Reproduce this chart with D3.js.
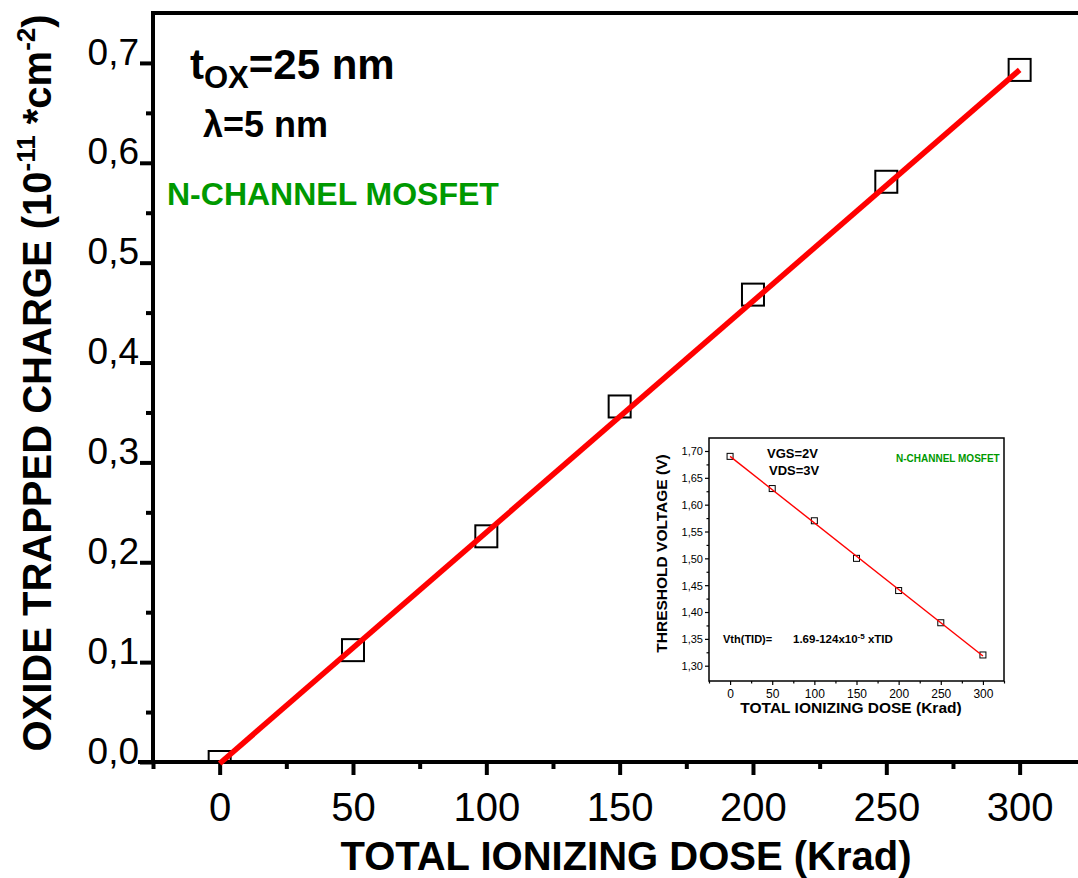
<!DOCTYPE html>
<html>
<head>
<meta charset="utf-8">
<script src="https://cdn.jsdelivr.net/npm/d3@7"></script>
<style>
  html, body { margin: 0; padding: 0; background: #fff; overflow: hidden; }
  svg { display: block; font-family: "Liberation Sans", Arial, sans-serif; }
</style>
</head>
<body>
<svg id="chart" width="1078" height="878"></svg>
<script>
// Main panel: oxide trapped charge vs total ionizing dose
const doseKrad = [0, 50, 100, 150, 200, 250, 300];
const trappedCharge = [0.0, 0.112, 0.226, 0.356, 0.468, 0.581, 0.693];
const chargeFit = [-0.0015, 0.002315];          // intercept, slope
const chargeTicks = [0, 0.1, 0.2, 0.3, 0.4, 0.5, 0.6, 0.7];
const chargeMinorTicks = [0.05, 0.15, 0.25, 0.35, 0.45, 0.55, 0.65];
const doseTicks = [0, 50, 100, 150, 200, 250, 300];
const doseMinorTicks = [-25, 25, 75, 125, 175, 225, 275, 325];

// Inset panel: threshold voltage vs total ionizing dose
const thresholdVoltage = [1.69, 1.63, 1.57, 1.50, 1.44, 1.38, 1.32];
const voltageFit = [1.69, -0.00124];            // intercept, slope
const voltageTicks = [1.30, 1.35, 1.40, 1.45, 1.50, 1.55, 1.60, 1.65, 1.70];
const voltageMinorTicks = [1.325, 1.375, 1.425, 1.475, 1.525, 1.575, 1.625, 1.675];

const comma = f => v => f(v).replace(".", ",");

const svg = d3.select("#chart");

// ---------- main panel ----------
const x = d3.scaleLinear().domain([-25, 325]).range([153, 1086.3]);
const y = d3.scaleLinear().domain([0, 0.75]).range([762, 13]);

const main = svg.append("g");

svg.append("defs").append("clipPath").attr("id", "plotArea")
  .append("rect")
  .attr("x", x.range()[0]).attr("y", y.range()[1])
  .attr("width", x.range()[1] - x.range()[0]).attr("height", y.range()[0] - y.range()[1]);

function styleAxis(g, sw) {
  g.select(".domain").remove();
  g.selectAll(".tick line").attr("stroke", "#000").attr("stroke-width", sw);
}

// data markers (clipped to the plot area)
const mainSize = 22;
main.append("g").attr("clip-path", "url(#plotArea)")
  .selectAll("rect").data(doseKrad).join("rect")
  .attr("x", d => x(d) - mainSize / 2)
  .attr("y", (d, i) => y(trappedCharge[i]) - mainSize / 2)
  .attr("width", mainSize).attr("height", mainSize)
  .attr("fill", "none").attr("stroke", "#000").attr("stroke-width", 2);

// minor ticks
main.append("g").attr("transform", `translate(${x.range()[0]},0)`)
  .call(d3.axisLeft(y).tickValues(chargeMinorTicks).tickSize(7).tickFormat(""))
  .call(g => styleAxis(g, 4));
main.append("g").attr("transform", `translate(0,${y(0)})`)
  .call(d3.axisBottom(x).tickValues(doseMinorTicks).tickSize(7).tickFormat(""))
  .call(g => styleAxis(g, 4));

// major ticks with labels
main.append("g").attr("transform", `translate(${x.range()[0]},0)`)
  .call(d3.axisLeft(y).tickValues(chargeTicks).tickSize(13).tickPadding(1).tickFormat(comma(d3.format(".1f"))))
  .call(g => styleAxis(g, 4))
  .call(g => g.selectAll(".tick text")
    .attr("font-family", "Liberation Sans, Arial, sans-serif")
    .attr("font-size", 37).attr("fill", "#000").attr("dy", "0.03em"));
main.append("g").attr("transform", `translate(0,${y(0)})`)
  .call(d3.axisBottom(x).tickValues(doseTicks).tickSize(13).tickPadding(18).tickFormat(d3.format("d")))
  .call(g => styleAxis(g, 4))
  .call(g => g.selectAll(".tick text")
    .attr("font-family", "Liberation Sans, Arial, sans-serif")
    .attr("font-size", 40).attr("fill", "#000"));

// frame lines
const frame = main.append("g").attr("stroke", "#000").attr("stroke-width", 4).attr("stroke-linecap", "square");
frame.append("line").attr("x1", x.range()[0]).attr("x2", x.range()[0]).attr("y1", y.range()[1]).attr("y2", y.range()[0]);
frame.append("line").attr("x1", x.range()[0] - 13).attr("x2", x.range()[1]).attr("y1", y.range()[0]).attr("y2", y.range()[0]);
frame.append("line").attr("x1", x.range()[0]).attr("x2", x.range()[1]).attr("y1", y.range()[1]).attr("y2", y.range()[1]);
frame.append("line").attr("x1", x.range()[1]).attr("x2", x.range()[1]).attr("y1", y.range()[1]).attr("y2", y.range()[0]);

// fitted line
main.append("line")
  .attr("x1", x(0)).attr("y1", y(chargeFit[0]))
  .attr("x2", x(300)).attr("y2", y(chargeFit[0] + chargeFit[1] * 300))
  .attr("stroke", "#ff0000").attr("stroke-width", 5.5).attr("stroke-linecap", "butt");

// axis titles
main.append("text")
  .attr("x", 626).attr("y", 870).attr("text-anchor", "middle")
  .attr("font-size", 40).attr("font-weight", "bold")
  .text("TOTAL IONIZING DOSE (Krad)");

const yTitle = main.append("text")
  .attr("transform", "translate(51,383) rotate(-90)")
  .attr("text-anchor", "middle")
  .attr("font-size", 40).attr("font-weight", "bold");
yTitle.append("tspan").text("OXIDE TRAPPED CHARGE (10");
yTitle.append("tspan").attr("font-size", 26).attr("dy", -16).text("-11");
yTitle.append("tspan").attr("dy", 16).text(" *cm");
yTitle.append("tspan").attr("font-size", 26).attr("dy", -16).text("-2");
yTitle.append("tspan").attr("dy", 16).text(")");

// annotations
const tox = main.append("text").attr("x", 190).attr("y", 79)
  .attr("font-size", 42).attr("font-weight", "bold");
tox.append("tspan").text("t");
tox.append("tspan").attr("font-size", 31).attr("dy", 9).text("OX");
tox.append("tspan").attr("dy", -9).text("=25 nm");

main.append("text").attr("x", 203).attr("y", 137)
  .attr("font-size", 36).attr("font-weight", "bold")
  .text("λ=5 nm");

main.append("text").attr("x", 167).attr("y", 205)
  .attr("font-size", 32).attr("font-weight", "bold").attr("fill", "#009900")
  .text("N-CHANNEL MOSFET");

// ---------- inset panel ----------
const ix = d3.scaleLinear().domain([-25, 325]).range([709, 1004]);
const iy = d3.scaleLinear().domain([1.2715, 1.7242]).range([681, 438]);

const inset = svg.append("g");
inset.append("rect")
  .attr("x", ix.range()[0]).attr("y", iy.range()[1])
  .attr("width", ix.range()[1] - ix.range()[0]).attr("height", iy.range()[0] - iy.range()[1])
  .attr("fill", "#fff");

inset.append("g").attr("transform", `translate(${ix.range()[0]},0)`)
  .call(d3.axisLeft(iy).tickValues(voltageMinorTicks).tickSize(2.5).tickFormat(""))
  .call(g => styleAxis(g, 1.2));
inset.append("g").attr("transform", `translate(0,${iy.range()[0]})`)
  .call(d3.axisBottom(ix).tickValues(doseMinorTicks).tickSize(2.5).tickFormat(""))
  .call(g => styleAxis(g, 1.2));

inset.append("g").attr("transform", `translate(${ix.range()[0]},0)`)
  .call(d3.axisLeft(iy).tickValues(voltageTicks).tickSize(4).tickPadding(2).tickFormat(comma(d3.format(".2f"))))
  .call(g => styleAxis(g, 1.2))
  .call(g => g.selectAll(".tick text")
    .attr("font-family", "Liberation Sans, Arial, sans-serif")
    .attr("font-size", 11).attr("fill", "#000").attr("dy", "0.35em"));
inset.append("g").attr("transform", `translate(0,${iy.range()[0]})`)
  .call(d3.axisBottom(ix).tickValues(doseTicks).tickSize(4).tickPadding(4).tickFormat(d3.format("d")))
  .call(g => styleAxis(g, 1.2))
  .call(g => g.selectAll(".tick text")
    .attr("font-family", "Liberation Sans, Arial, sans-serif")
    .attr("font-size", 12).attr("fill", "#000"));

inset.append("rect")
  .attr("x", ix.range()[0]).attr("y", iy.range()[1])
  .attr("width", ix.range()[1] - ix.range()[0]).attr("height", iy.range()[0] - iy.range()[1])
  .attr("fill", "none").attr("stroke", "#000").attr("stroke-width", 1.5);

const insetSize = 6;
inset.append("g").selectAll("rect").data(doseKrad).join("rect")
  .attr("x", d => ix(d) - insetSize / 2)
  .attr("y", (d, i) => iy(thresholdVoltage[i]) - insetSize / 2)
  .attr("width", insetSize).attr("height", insetSize)
  .attr("fill", "none").attr("stroke", "#000").attr("stroke-width", 1);

inset.append("line")
  .attr("x1", ix(0)).attr("y1", iy(voltageFit[0]))
  .attr("x2", ix(300)).attr("y2", iy(voltageFit[0] + voltageFit[1] * 300))
  .attr("stroke", "#ff0000").attr("stroke-width", 1.4);

inset.append("text")
  .attr("x", 851).attr("y", 713).attr("text-anchor", "middle")
  .attr("font-size", 15.5).attr("font-weight", "bold")
  .text("TOTAL IONIZING DOSE (Krad)");
inset.append("text")
  .attr("transform", "translate(667,553.5) rotate(-90)")
  .attr("text-anchor", "middle")
  .attr("font-size", 15.5).attr("font-weight", "bold")
  .text("THRESHOLD VOLTAGE (V)");

inset.append("text").attr("x", 767).attr("y", 458)
  .attr("font-size", 13).attr("font-weight", "bold").text("VGS=2V");
inset.append("text").attr("x", 769).attr("y", 475)
  .attr("font-size", 13).attr("font-weight", "bold").text("VDS=3V");
inset.append("text").attr("x", 896).attr("y", 462)
  .attr("font-size", 10).attr("font-weight", "bold").attr("fill", "#009900")
  .text("N-CHANNEL MOSFET");

inset.append("text").attr("x", 723).attr("y", 643)
  .attr("font-size", 11).attr("font-weight", "bold").text("Vth(TID)=");
const eq = inset.append("text").attr("x", 793).attr("y", 643)
  .attr("font-size", 11.5).attr("font-weight", "bold");
eq.append("tspan").text("1.69-124x10");
eq.append("tspan").attr("font-size", 8).attr("dy", -4.5).text("-5");
eq.append("tspan").attr("dy", 4.5).text(" xTID");
</script>
</body>
</html>
